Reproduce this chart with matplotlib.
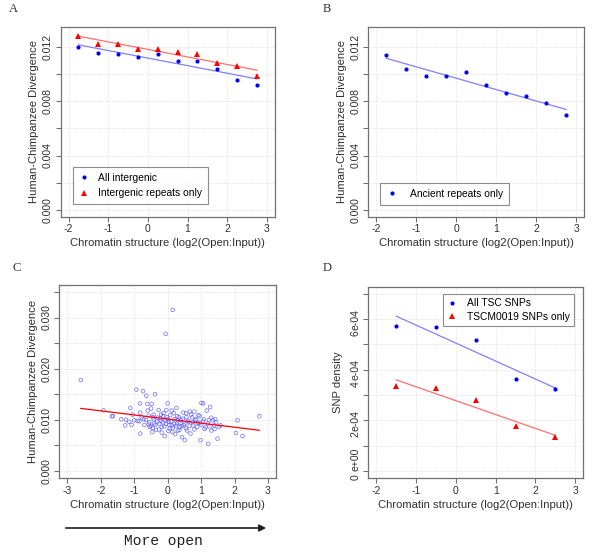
import matplotlib
matplotlib.use('Agg')
import matplotlib.pyplot as plt
import matplotlib.transforms as mtransforms
import numpy as np

# ---- data ----
# panel A
a_x = [-1.75, -1.25, -0.75, -0.25, 0.25, 0.75, 1.25, 1.75, 2.25, 2.75]
a_all = [0.01202, 0.01161, 0.01153, 0.01131, 0.01151, 0.01101, 0.01101, 0.01042, 0.00961, 0.00922]
a_rep = [0.01286, 0.01222, 0.01225, 0.01190, 0.01190, 0.01163, 0.01153, 0.01084, 0.01064, 0.00991]

# panel B
b_x = [-1.75, -1.25, -0.75, -0.25, 0.25, 0.75, 1.25, 1.75, 2.25, 2.75]
b_anc = [0.01141, 0.01040, 0.00989, 0.00989, 0.01021, 0.00923, 0.00861, 0.00842, 0.00788, 0.00702]

# panel C (one point per region)
c_x = [0.15, -0.06, -2.60, -1.92, -1.67, -1.64, -1.39, -1.27, -1.12, -1.08, -1.00, -0.94,
       -0.90, -0.83, -0.82, -0.82, -0.74, -0.72, -0.64, -0.61, -0.57, -0.57, -0.54, -0.50,
       -0.48, -0.46, -0.44, -0.42, -0.38, -0.37, -0.32, -0.27, -0.26, -0.22, -0.20, -0.18,
       -0.14, -0.12, -0.09, -0.06, -0.04, -0.02, 0.00, 0.03, 0.06, 0.08, 0.12, 0.14,
       0.18, 0.20, 0.23, 0.26, 0.28, 0.30, 0.33, 0.36, 0.40, 0.43, 0.46, 0.48,
       0.51, 0.56, 0.58, 0.63, 0.66, 0.68, 0.73, 0.76, 0.80, 0.83, 0.88, 0.92,
       0.96, 0.98, 1.01, 1.06, 1.08, 1.13, 1.17, 1.21, 1.23, 1.27, 1.31, 1.35,
       1.39, 1.42, 1.49, 1.53, 1.58, 2.04, 2.09, 2.24, 2.74,
       -0.55, -0.50, -0.45, -0.40, -0.35, -0.30, -0.25, -0.20, -0.18, -0.15, -0.10, -0.05,
       0.00, 0.02, 0.05, 0.10, 0.15, 0.20, 0.25, 0.30, 0.35, 0.38, 0.42, 0.45,
       0.50, 0.55, 0.60, 0.65, 0.70, 0.75, 0.80, 0.85, 0.90, 0.95, 1.00, 1.05,
       1.10, 1.20, 1.25, 1.30, 1.40, 1.45, -0.65, -0.70, -0.78, -0.85, -1.05, -1.15,
       -1.25, -0.60, 0.12, 0.55, -0.42, 0.28]
c_y = [0.0315, 0.0268, 0.01775, 0.01185, 0.0107, 0.0107, 0.0101, 0.0089, 0.0123, 0.0090, 0.0099, 0.0159,
       0.0098, 0.0132, 0.0114, 0.0073, 0.0156, 0.0101, 0.0147, 0.0131, 0.0108, 0.0091, 0.0086, 0.0122,
       0.0131, 0.0076, 0.0105, 0.0101, 0.0150, 0.0090, 0.0096, 0.0119, 0.0081, 0.0103, 0.0098, 0.0086,
       0.0107, 0.0113, 0.0068, 0.0099, 0.0119, 0.0105, 0.0132, 0.0096, 0.0083, 0.0109, 0.0089, 0.0076,
       0.0113, 0.0101, 0.0072, 0.0123, 0.0093, 0.0079, 0.0105, 0.0086, 0.0099, 0.0066, 0.0114, 0.0089,
       0.0060, 0.0105, 0.0079, 0.0096, 0.0116, 0.0073, 0.0105, 0.0089, 0.0116, 0.0099, 0.0086, 0.0109,
       0.0094, 0.0060, 0.0133, 0.0132, 0.0101, 0.0085, 0.0118, 0.0053, 0.0099, 0.0125, 0.0079, 0.0099,
       0.0089, 0.0101, 0.0063, 0.0086, 0.0089, 0.0074, 0.0099, 0.0068, 0.0107,
       0.0095, 0.0088, 0.0084, 0.0093, 0.0080, 0.0104, 0.0092, 0.0110, 0.0075, 0.0095, 0.0087, 0.0092,
       0.0101, 0.0078, 0.0090, 0.0097, 0.0084, 0.0092, 0.0088, 0.0099, 0.0080, 0.0094, 0.0087, 0.0102,
       0.0092, 0.0083, 0.0098, 0.0088, 0.0110, 0.0095, 0.0081, 0.0101, 0.0094, 0.0107, 0.0090, 0.0097,
       0.0082, 0.0093, 0.0087, 0.0104, 0.0082, 0.0095, 0.0100, 0.0090, 0.0105, 0.0097, 0.0110, 0.0096,
       0.0100, 0.0118, 0.0118, 0.0113, 0.0110, 0.0107]
c_fit = (0.01014, -0.00080)   # intercept, slope of the red line

# panel D
d_x = [-1.5, -0.5, 0.5, 1.5, 2.5]
d_all = [5.74e-4, 5.70e-4, 5.18e-4, 3.64e-4, 3.22e-4]
d_tscm = [3.34e-4, 3.26e-4, 2.79e-4, 1.78e-4, 1.34e-4]
# the y labels of D come out split: digit and exponent part drawn apart
d_lab_vals = [0, 2e-4, 4e-4, 6e-4]
d_lab_digit = ['0', '2', '4', '6']
d_lab_exp = ['e+00', 'e-04', 'e-04', 'e-04']

xlab = 'Chromatin structure (log2(Open:Input))'
ylab = 'Human-Chimpanzee Divergence'

plt.rcParams['font.family'] = ['Liberation Sans', 'DejaVu Sans']
frame_col = '#707070'
txt_col = '#303030'
grid_col = '#d8d8d8'

fig = plt.figure(figsize=(6.0, 5.52), dpi=100)


def r_lim(lo, hi):
    d = (hi - lo) * 0.04
    return lo - d, hi + d


def style(ax, xticks, yticks, ylabels, xlim, ylim, ylabel):
    ax.set_xlim(*r_lim(*xlim))
    ax.set_ylim(*r_lim(*ylim))
    ax.set_xticks(xticks)
    ax.set_xticklabels([str(int(t)) for t in xticks])
    ax.set_yticks(yticks)
    ax.set_yticklabels(ylabels, rotation=90, va='center')
    for t in xticks:
        ax.axvline(t, color=grid_col, lw=0.6, ls=(0, (1, 1.5)), zorder=0)
    for t in yticks:
        ax.axhline(t, color=grid_col, lw=0.6, ls=(0, (1, 1.5)), zorder=0)
    for s in ax.spines.values():
        s.set_color(frame_col)
        s.set_linewidth(0.9)
    ax.tick_params(colors=frame_col, labelcolor=txt_col, labelsize=7.5, length=3.5, width=0.8, pad=2)
    ax.set_xlabel(xlab, fontsize=8.1, color=txt_col, labelpad=3)
    ax.set_ylabel(ylab if ylabel is None else ylabel, fontsize=8.1, color=txt_col, labelpad=3)


def lab(y):
    return ['%.3f' % v if i % 2 == 0 else '' for i, v in enumerate(y)]


blue = '#0000ff'
red = '#ff0000'
lblue = '#8080ff'
lred = '#ff7070'


def legend(ax, **kw):
    leg = ax.legend(fontsize=7.4, frameon=True, fancybox=False, handlelength=1.0,
                    borderaxespad=0, **kw)
    leg.get_frame().set_edgecolor(frame_col)
    leg.get_frame().set_linewidth(0.8)


# ---- A ----
axA = fig.add_axes([0.101, 0.6075, 0.357, 0.344])
ya = [0, 0.002, 0.004, 0.006, 0.008, 0.010, 0.012]
style(axA, [-2, -1, 0, 1, 2, 3], ya, lab(ya), (-2, 3), (0, 0.013), None)
for yy, c, lc, m, ms, name in [(a_all, blue, lblue, 'o', 3.0, 'All intergenic'),
                               (a_rep, red, lred, '^', 4.0, 'Intergenic repeats only')]:
    p = np.polyfit(a_x, yy, 1)
    xs = np.array([min(a_x), max(a_x)])
    axA.plot(xs, np.polyval(p, xs), color=lc, lw=0.9)
    axA.plot(a_x, yy, ls='none', marker=m, ms=ms, color=c, mew=0, label=name)
legend(axA, loc='lower left', bbox_to_anchor=(0.056, 0.065), borderpad=0.6, handletextpad=0.9)

# ---- B ----
axB = fig.add_axes([0.614, 0.6075, 0.3595, 0.344])
style(axB, [-2, -1, 0, 1, 2, 3], ya, lab(ya), (-2, 3), (0, 0.013), None)
p = np.polyfit(b_x, b_anc, 1)
xs = np.array([min(b_x), max(b_x)])
axB.plot(xs, np.polyval(p, xs), color=lblue, lw=0.9)
axB.plot(b_x, b_anc, ls='none', marker='o', ms=3.0, color=blue, mew=0, label='Ancient repeats only')
legend(axB, loc='lower left', bbox_to_anchor=(0.055, 0.062), borderpad=0.6, handletextpad=1.3)

# ---- C ----
axC = fig.add_axes([0.099, 0.134, 0.361, 0.350])
yc = [0, 0.005, 0.010, 0.015, 0.020, 0.025, 0.030, 0.035]
style(axC, [-3, -2, -1, 0, 1, 2, 3], yc, lab(yc), (-3, 3), (0, 0.035), None)
axC.scatter(c_x, c_y, s=7, facecolors='none', edgecolors='#5a5aff', linewidths=0.55, alpha=0.8, zorder=2)
xs = np.array([min(c_x), max(c_x)])
axC.plot(xs, c_fit[0] + c_fit[1] * xs, color=red, lw=0.9, zorder=3)

# arrow + caption under C
fig.add_artist(matplotlib.patches.FancyArrowPatch((63 / 600, 1 - 528 / 552), (269 / 600, 1 - 528 / 552),
                                                  transform=fig.transFigure, arrowstyle='-|>',
                                                  mutation_scale=10, lw=1.2, color='#202020'))
fig.text(163 / 600, 1 - 541 / 552, 'More open', ha='center', va='center', fontsize=10.5,
         family='Liberation Mono', color='#202020')

# ---- D ----
axD = fig.add_axes([0.614, 0.134, 0.358, 0.3466])
yd = [0, 1e-4, 2e-4, 3e-4, 4e-4, 5e-4, 6e-4, 7e-4]
style(axD, [-2, -1, 0, 1, 2, 3], yd, ['' for _ in yd], (-2, 3), (0, 7e-4), 'SNP density')
axD.yaxis.set_label_coords(-0.118, 0.5)
for i, yv in enumerate(d_lab_vals):
    # pixel offsets of each split part relative to its tick
    exp_off, dig_off = (12, -6) if i == 0 else (0, -14)
    for s, off in [(d_lab_exp[i], exp_off), (d_lab_digit[i], dig_off)]:
        tr = mtransforms.offset_copy(axD.get_yaxis_transform(), fig=fig, x=-13, y=off, units='dots')
        axD.text(0, yv, s, transform=tr, rotation=90, ha='center', va='center',
                 fontsize=7.5, color=txt_col)
for yy, c, lc, m, ms, name in [(d_all, blue, lblue, 'o', 3.0, 'All TSC SNPs'),
                               (d_tscm, red, lred, '^', 4.0, 'TSCM0019 SNPs only')]:
    p = np.polyfit(d_x, yy, 1)
    xs = np.array([min(d_x), max(d_x)])
    axD.plot(xs, np.polyval(p, xs), color=lc, lw=0.9)
    axD.plot(d_x, yy, ls='none', marker=m, ms=ms, color=c, mew=0, label=name)
legend(axD, loc='upper right', bbox_to_anchor=(0.955, 0.96), borderpad=0.4, handletextpad=0.9,
       labelspacing=0.3)

# panel letters
for s, x, y in [('A', 13, 9), ('B', 327, 9), ('C', 17, 268), ('D', 327, 268)]:
    fig.text(x / 600, 1 - y / 552, s, ha='center', va='center', fontsize=9,
             family='Liberation Serif', color='#303030')

plt.savefig('out.png', dpi=100)
